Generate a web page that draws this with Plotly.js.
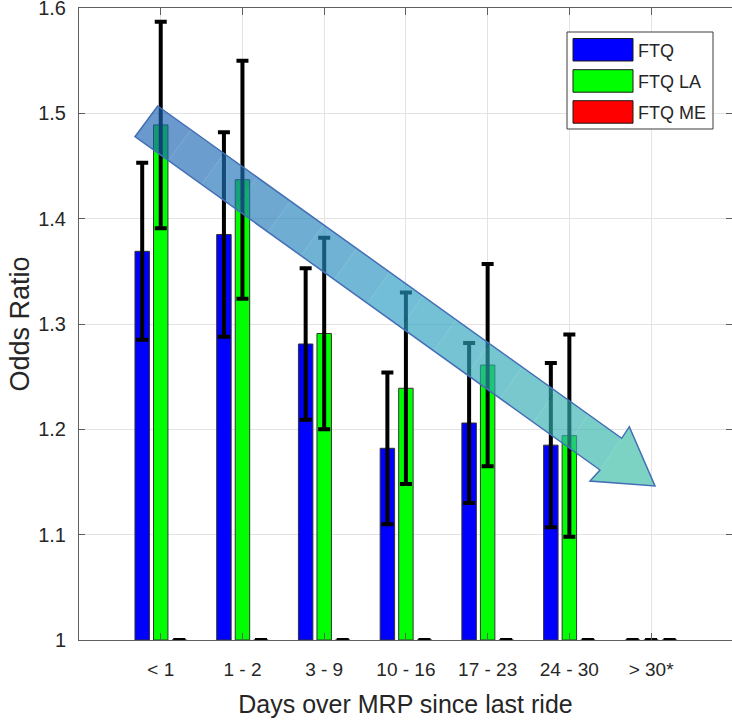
<!DOCTYPE html>
<html><head><meta charset="utf-8">
<script src="https://cdn.plot.ly/plotly-3.0.1.min.js"></script>
<style>html,body{margin:0;padding:0;background:#fff}#chart{width:732px;height:721px}</style>
</head><body><div id="chart"></div>
<script>
// ---- data ----
const categories = ['< 1', '1 - 2', '3 - 9', '10 - 16', '17 - 23', '24 - 30', '> 30*'];
const seriesNames = ['FTQ', 'FTQ LA', 'FTQ ME'];
const ftq      = [1.369, 1.385, 1.281, 1.182, 1.206, 1.185, 1.0];
const ftqErr   = [0.084, 0.097, 0.072, 0.072, 0.076, 0.078, 0];
const ftqLA    = [1.489, 1.437, 1.291, 1.239, 1.261, 1.194, 1.0];
const ftqLAErr = [0.098, 0.113, 0.091, 0.091, 0.096, 0.096, 0];
const ftqME    = [1.0, 1.0, 1.0, 1.0, 1.0, 1.0, 1.0];
const ftqMEErr = [0, 0, 0, 0, 0, 0, 0];
const yTickVals = [1, 1.1, 1.2, 1.3, 1.4, 1.5, 1.6];
const yTickText = ['1', '1.1', '1.2', '1.3', '1.4', '1.5', '1.6'];
const xTitle = 'Days over MRP since last ride';
const yTitle = 'Odds Ratio';

// ---- styling ----
const BASE = 1;
const colors = ['#0000ff', '#00ff00', '#ff0000'];
const textColor = '#262626';
const axisColor = '#5f5f5f';
const regular = '"Liberation Sans", Arial, sans-serif';

function barTrace(name, vals, errs, color) {
  return {
    type: 'bar', name: name, x: categories,
    y: vals.map(v => v - BASE), base: BASE,
    marker: {color: color, line: {color: '#333333', width: 1}},
    error_y: {type: 'data', array: errs, visible: true, color: '#000000', thickness: 4, width: 6},
    cliponaxis: false, hoverinfo: 'skip'
  };
}
const data = [
  barTrace(seriesNames[0], ftq, ftqErr, colors[0]),
  barTrace(seriesNames[1], ftqLA, ftqLAErr, colors[1]),
  barTrace(seriesNames[2], ftqME, ftqMEErr, colors[2])
];

// ---- decorative arrow (paper coordinates) ----
const W = 653, H = 632, L0 = 79, T0 = 8;
const px = (x) => (x - L0) / W;
const py = (y) => (T0 + H - y) / H;
const A = {
  t1: [157.7, 106], t2: [135, 136.7], u: [621.7, 438.3], h1: [629.3, 426.7],
  p: [655, 486], h2: [590, 481], l: [600, 470]
};
function pt(q) { return px(q[0]).toFixed(5) + ',' + py(q[1]).toFixed(5); }
function lerp(a, b, t) { return [a[0] + (b[0] - a[0]) * t, a[1] + (b[1] - a[1]) * t]; }
const cStops = [[25, 94, 178], [40, 155, 194], [55, 189, 163]];
function colAt(t) {
  let a, b, s;
  if (t < 0.5) { a = cStops[0]; b = cStops[1]; s = t / 0.5; }
  else { a = cStops[1]; b = cStops[2]; s = (t - 0.5) / 0.5; }
  const c = [0, 1, 2].map(i => Math.round(a[i] + (b[i] - a[i]) * s));
  return 'rgba(' + c.join(',') + ',0.65)';
}
const shapes = [];
const N = 14;
for (let i = 0; i < N; i++) {
  const t0 = i / N, t1 = (i + 1) / N;
  const a = lerp(A.t1, A.u, t0), b = lerp(A.t1, A.u, t1);
  const c = lerp(A.t2, A.l, t1), d = lerp(A.t2, A.l, t0);
  shapes.push({type: 'path', xref: 'paper', yref: 'paper', layer: 'above',
    path: 'M' + pt(a) + 'L' + pt(b) + 'L' + pt(c) + 'L' + pt(d) + 'Z',
    fillcolor: colAt((t0 + t1) / 2 * 0.9), line: {width: 0}});
}
shapes.push({type: 'path', xref: 'paper', yref: 'paper', layer: 'above',
  path: 'M' + pt(A.u) + 'L' + pt(A.h1) + 'L' + pt(A.p) + 'L' + pt(A.h2) + 'L' + pt(A.l) + 'Z',
  fillcolor: colAt(0.97), line: {width: 0}});
shapes.push({type: 'path', xref: 'paper', yref: 'paper', layer: 'above',
  path: 'M' + pt(A.t1) + 'L' + pt(A.u) + 'L' + pt(A.h1) + 'L' + pt(A.p) + 'L' + pt(A.h2) + 'L' + pt(A.l) + 'L' + pt(A.t2) + 'Z',
  fillcolor: 'rgba(0,0,0,0)', line: {color: 'rgb(68,110,182)', width: 1.5}});

// ---- legend box built from the series names ----
const annotations = [];
shapes.push({type: 'rect', xref: 'paper', yref: 'paper', layer: 'above',
  x0: px(567), x1: px(713), y0: py(129), y1: py(32),
  fillcolor: '#ffffff', line: {color: '#3c3c3c', width: 1}});
const swTop = [38.5, 69.7, 100.7];
seriesNames.forEach((nm, i) => {
  shapes.push({type: 'rect', xref: 'paper', yref: 'paper', layer: 'above',
    x0: px(573), x1: px(633), y0: py(swTop[i] + 22.5), y1: py(swTop[i]),
    fillcolor: colors[i], line: {color: '#1a1a1a', width: 1}});
  annotations.push({xref: 'paper', yref: 'paper', x: px(636), y: py(swTop[i] + 12),
    xanchor: 'left', yanchor: 'middle', showarrow: false, text: nm,
    font: {family: regular, size: 18, color: textColor}});
});

const layout = {
  width: 732, height: 721,
  margin: {l: L0, r: 732 - L0 - W, t: T0, b: 721 - T0 - H, pad: 0},
  paper_bgcolor: '#ffffff', plot_bgcolor: '#ffffff',
  barmode: 'group', bargap: 0.32, bargroupgap: 0.22,
  showlegend: false,
  font: {family: regular, color: textColor},
  xaxis: {
    type: 'category', range: [-1, 6.99], fixedrange: true,
    showgrid: true, gridcolor: '#e3e3e3', gridwidth: 1, zeroline: false,
    ticks: 'inside', ticklen: 7, tickwidth: 1, tickcolor: axisColor,
    showline: true, linecolor: axisColor, linewidth: 1, mirror: 'ticks',
    tickfont: {family: regular, size: 19, color: textColor}, ticklabelstandoff: 12,
    title: {text: xTitle, font: {family: regular, size: 25, color: textColor}, standoff: 16},
    automargin: false
  },
  yaxis: {
    range: [1, 1.6], fixedrange: true,
    tickvals: yTickVals, ticktext: yTickText, ticklabeloverflow: 'allow',
    showgrid: true, gridcolor: '#e3e3e3', gridwidth: 1, zeroline: false,
    ticks: 'inside', ticklen: 6, tickwidth: 1, tickcolor: axisColor,
    showline: true, linecolor: axisColor, linewidth: 1, mirror: 'ticks',
    tickfont: {family: regular, size: 20, color: textColor}, ticklabelstandoff: 8,
    title: {text: yTitle, font: {family: regular, size: 27, color: textColor}, standoff: 0},
    automargin: false
  },
  shapes: shapes,
  annotations: annotations
};
Plotly.newPlot('chart', data, layout, {staticPlot: true, displayModeBar: false});
</script>
</body></html>
